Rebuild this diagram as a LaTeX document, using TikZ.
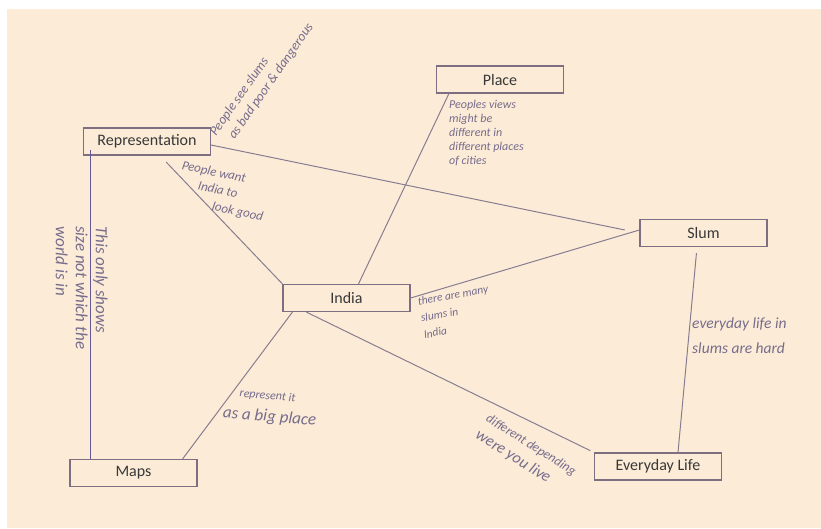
\documentclass[tikz,border=0pt]{standalone}
\usepackage{fontspec}
\setmainfont{Carlito}
\definecolor{paper}{RGB}{252,236,215}
\definecolor{boxline}{RGB}{125,110,130}
\definecolor{pencil}{RGB}{118,108,140}
\definecolor{inkline}{RGB}{135,125,145}

\tikzstyle{box} = [rectangle, fill = paper, minimum width = 127pt, minimum height = 27pt, text centered, draw = boxline, line width = 1.2pt, font = \fontsize{16}{18}\selectfont, text = black!78]
\tikzstyle{note} = [align = left, inner sep = 0pt, text = pencil, font = \fontsize{12}{14}\selectfont\itshape]
\tikzstyle{link} = [draw = inkline, line width = 1pt]

\begin{document}
\begin{tikzpicture}[x = 1pt, y = -1pt]
    \fill[white] (0, 0) rectangle (821, 528);
    \fill[paper] (7, 9) rectangle (821, 528);
    	\node(rep)[box] at (147, 141.5) {Representation};
        \node(place)[box] at (500, 79.5) {Place};
        \node(slum)[box] at (703.5, 233) {Slum};
		\node(india)[box] at (346.5, 298) {India};
		\node(maps)[box] at (133.5, 473) {Maps};
		\node(life)[box] at (658, 466.5) {Everyday Life};
        \draw[link, draw = boxline!80!blue] ([xshift = 7.5pt, yshift = 6pt]rep.south west) -- ([xshift = 21pt]maps.north west);
        \draw[link, shorten > = 15pt] ([yshift = -3.5pt]rep.east) -- (slum.west);
        \draw[link] (india.east) -- ([yshift = 3pt]slum.west);
        \draw[link] ([xshift = 13pt]place.south west) -- ([xshift = 12pt]india.north);
        \draw[link, shorten < = 9pt] ([xshift = 13pt]rep.south) -- (india.north west);
        \draw[link] ([xshift = 10pt]india.south west) -- ([xshift = -15pt]maps.north east);
        \draw[link, shorten > = 4pt] ([xshift = 24pt]india.south west) -- (life.north west);
        \draw[link, shorten < = 6pt] ([xshift = -6.5pt]slum.south) -- ([xshift = 20pt]life.north);
        % handwritten remarks
        \node(n_dangerous)[note, rotate = 55, anchor = south west, font = \fontsize{13.5}{17}\selectfont\itshape] at (232, 148) {People see slums\\\hspace{8pt}as bad poor \& dangerous};
        \node(n_views)[note, anchor = north west] at (449, 100) {Peoples views\\might be\\different in\\different places\\of cities};
        \node(n_good)[note, rotate = -12, anchor = north west, font = \fontsize{13}{17}\selectfont\itshape] at (183, 160) {People want\\\hspace{20pt}India to\\\hspace{38pt}look good};
        \node(n_size)[note, rotate = -90, anchor = north west, font = \fontsize{17}{20}\selectfont\itshape] at (108, 226) {This only shows\\size not which the\\world is in};
        \node(n_many)[note, rotate = 10, anchor = north west, font = \fontsize{11.5}{17}\selectfont\itshape] at (417, 297) {there are many\\slums in\\India};
        \node(n_hard)[note, anchor = north west, font = \fontsize{15.5}{25}\selectfont\itshape] at (692, 318) {everyday life in\\slums are hard};
        \node(n_big)[note, rotate = -5, anchor = north west, font = \fontsize{17}{22}\selectfont\itshape] at (225, 387) {\hspace{15pt}{\fontsize{12}{14}\selectfont represent it}\\as a big place};
        \node(n_live)[note, rotate = -32, anchor = north west, font = \fontsize{13}{20}\selectfont\itshape] at (490, 413) {different depending\\{\fontsize{16}{20}\selectfont were you live}};
    \end{tikzpicture}
\end{document}
